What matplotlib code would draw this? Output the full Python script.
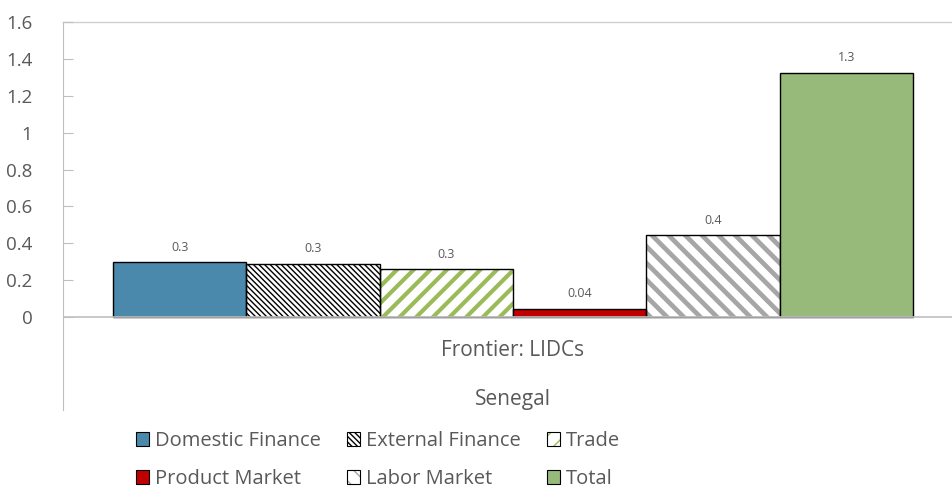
import matplotlib.pyplot as plt
import matplotlib.patches as mpatches
import matplotlib.transforms as mtransforms
import numpy as np

plt.rcParams['font.family'] = ['Open Sans', 'DejaVu Sans']

# data
series = ['Domestic Finance', 'External Finance', 'Trade',
          'Product Market', 'Labor Market', 'Total']
values = [0.298, 0.29, 0.258, 0.045, 0.443, 1.325]
value_labels = ['0.3', '0.3', '0.3', '0.04', '0.4', '1.3']
group_label = 'Frontier: LIDCs'
country_label = 'Senegal'
yticks = [0, 0.2, 0.4, 0.6, 0.8, 1, 1.2, 1.4, 1.6]
ytick_labels = ['0', '0.2', '0.4', '0.6', '0.8', '1', '1.2', '1.4', '1.6']

# style per series: facecolor, hatch, hatch colour, hatch linewidth
styles = [
    ('#4A89AB', '', None, 0),
    ('white', '\\\\\\\\\\\\', 'black', 1.0),
    ('white', '//', '#9BBB59', 3.0),
    ('#C00000', '', None, 0),
    ('white', '\\\\', '#A6A6A6', 3.4),
    ('#97B97A', '', None, 0),
]

txt = '#595959'

fig = plt.figure(figsize=(9.53, 4.91), dpi=100)
ax = fig.add_axes([63 / 953, 1 - 410 / 491, 1 - 63 / 953, (410 - 22) / 491])


def hatched(fc, hatch, hc, hlw, **kw):
    plt.rcParams['hatch.linewidth'] = hlw
    p = mpatches.Rectangle((0, 0), 1, 1, facecolor=fc, edgecolor=hc,
                           hatch=hatch, linewidth=0, **kw)
    if hasattr(p, 'set_hatch_linewidth'):
        p.set_hatch_linewidth(hlw)
    return p


x = np.arange(len(values))
legend_handles = []
for i, (v, (fc, hatch, hc, hlw)) in enumerate(zip(values, styles)):
    if hatch:
        plt.rcParams['hatch.linewidth'] = hlw
        b = ax.bar(x[i], v, width=1.0, color=fc, edgecolor=hc, hatch=hatch,
                   linewidth=0, zorder=2)
        if hasattr(b[0], 'set_hatch_linewidth'):
            b[0].set_hatch_linewidth(hlw)
        ax.bar(x[i], v, width=1.0, fill=False, edgecolor='black',
               linewidth=1.0, zorder=3)
        h = (hatched(fc, hatch, hc, hlw),
             mpatches.Patch(fill=False, edgecolor='black', linewidth=0.8))
    else:
        ax.bar(x[i], v, width=1.0, color=fc, edgecolor='black',
               linewidth=1.0, zorder=3)
        h = mpatches.Patch(facecolor=fc, edgecolor='black', linewidth=0.8)
    ax.annotate(value_labels[i], (x[i], v), xytext=(0, 6),
                textcoords='offset points', ha='center', va='bottom',
                fontsize=9, color=txt)
    legend_handles.append(h)

plt.rcParams['hatch.linewidth'] = 1.0

ax.set_xlim(-0.875, 5.8)
ax.set_ylim(-0.504, 1.6)
ax.axhline(0, color='#BFBFBF', linewidth=1.2, zorder=4)
ax.axhline(1.6, color='#D0D0D0', linewidth=1.0, zorder=1, clip_on=False)

for s in ['top', 'right', 'bottom']:
    ax.spines[s].set_visible(False)
ax.spines['left'].set_color('#BFBFBF')

ax.set_yticks(yticks)
ax.set_yticklabels(ytick_labels)
ax.tick_params(axis='y', direction='in', length=7, color='#BFBFBF',
               labelsize=13.5, labelcolor=txt, pad=22)
ax.set_xticks([])

center = x.mean()
trans = mtransforms.blended_transform_factory(ax.transData, ax.transAxes)
ax.text(center, (1 - (351 - 22) / 388), group_label, transform=trans,
        ha='center', va='center', fontsize=15, color=txt)
ax.text(center, (1 - (399 - 22) / 388), country_label, transform=trans,
        ha='center', va='center', fontsize=15, color=txt)

order = [0, 3, 1, 4, 2, 5]
fig.legend([legend_handles[i] for i in order], [series[i] for i in order],
           ncol=3, loc='center', bbox_to_anchor=(378 / 953, 1 - 460 / 491),
           frameon=False, fontsize=14.5, labelcolor=txt,
           handlelength=0.65, handleheight=0.65, handletextpad=0.3,
           columnspacing=1.3, labelspacing=0.9)

fig.savefig('out.png', dpi=100)
